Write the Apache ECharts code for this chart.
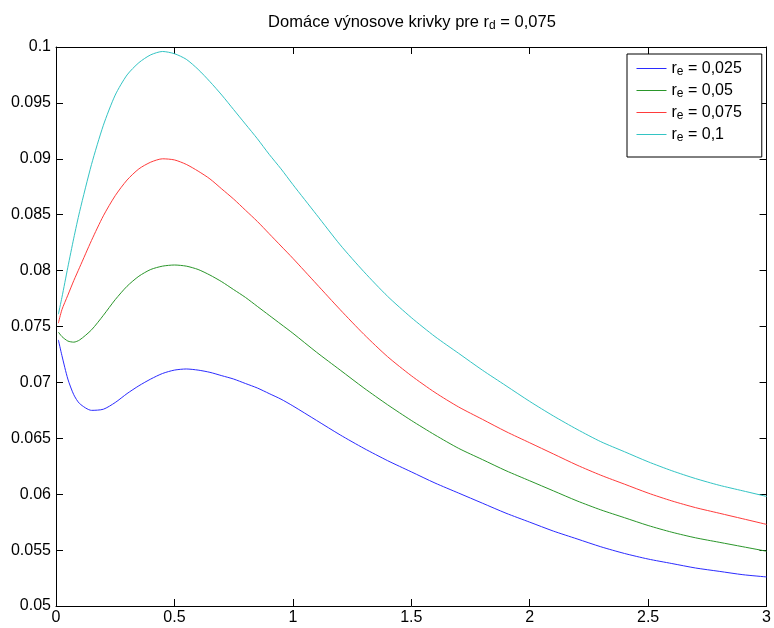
<!DOCTYPE html>
<html>
<head>
<meta charset="utf-8">
<script src="https://cdn.jsdelivr.net/npm/echarts@6/dist/echarts.min.js"></script>
<style>
  html, body { margin: 0; padding: 0; background: #fff; }
  #chart { width: 774px; height: 628px; }
</style>
</head>
<body>
<div id="chart"></div>
<script>
// Maturity grid (years)
const maturities = [0.01, 0.025, 0.05, 0.075, 0.1, 0.15, 0.2, 0.25, 0.3, 0.35, 0.4, 0.45, 0.5, 0.55, 0.6, 0.65, 0.7, 0.75, 0.8, 0.85, 0.9, 0.95, 1.0,
  1.1, 1.2, 1.3, 1.4, 1.5, 1.6, 1.7, 1.8, 1.9, 2.0, 2.1, 2.2, 2.3, 2.4, 2.5, 2.6, 2.7, 2.8, 2.9, 3.0];

// Domestic yields for each foreign rate r_e
const yieldsRe025 = [0.0738, 0.0724, 0.0703, 0.0689, 0.0681, 0.0675, 0.0676, 0.0682, 0.0690, 0.0697, 0.0703, 0.0708, 0.0711, 0.0712, 0.0711, 0.0709, 0.0706, 0.0703, 0.0699, 0.0695, 0.0690, 0.0685, 0.0679,
  0.0666, 0.0653, 0.0641, 0.0630, 0.0620, 0.0610, 0.0601, 0.0592, 0.0583, 0.0575, 0.0567, 0.0560, 0.0553, 0.0547, 0.0542, 0.0538, 0.0534, 0.0531, 0.0528, 0.0526];
const yieldsRe05 = [0.0745, 0.0741, 0.0737, 0.0736, 0.0738, 0.0747, 0.0760, 0.0774, 0.0786, 0.0795, 0.0801, 0.0804, 0.0805, 0.0804, 0.0801, 0.0796, 0.0790, 0.0783, 0.0776, 0.0768, 0.0760, 0.0752, 0.0744,
  0.0727, 0.0711, 0.0695, 0.0680, 0.0666, 0.0653, 0.0641, 0.0631, 0.0621, 0.0612, 0.0603, 0.0594, 0.0586, 0.0579, 0.0572, 0.0566, 0.0561, 0.0557, 0.0553, 0.0549];
const yieldsRe075 = [0.0753, 0.0765, 0.0778, 0.0791, 0.0803, 0.0827, 0.0849, 0.0867, 0.0881, 0.0891, 0.0897, 0.0900, 0.0899, 0.0895, 0.0889, 0.0882, 0.0873, 0.0864, 0.0854, 0.0844, 0.0833, 0.0822, 0.0811,
  0.0788, 0.0765, 0.0743, 0.0723, 0.0706, 0.0691, 0.0678, 0.0667, 0.0656, 0.0646, 0.0636, 0.0626, 0.0617, 0.0609, 0.0601, 0.0594, 0.0588, 0.0583, 0.0578, 0.0573];
const yieldsRe1 = [0.0761, 0.0776, 0.0803, 0.0829, 0.0853, 0.0895, 0.0930, 0.0957, 0.0975, 0.0986, 0.0993, 0.0996, 0.0994, 0.0989, 0.0980, 0.0969, 0.0957, 0.0944, 0.0931, 0.0918, 0.0904, 0.0891, 0.0877,
  0.0850, 0.0823, 0.0799, 0.0777, 0.0758, 0.0741, 0.0726, 0.0711, 0.0697, 0.0683, 0.0670, 0.0658, 0.0647, 0.0638, 0.0629, 0.0621, 0.0614, 0.0608, 0.0603, 0.0598];

const seriesNames = ['re025', 're05', 're075', 're1'];
const legendTexts = ['0,025', '0,05', '0,075', '0,1'];
const seriesValues = [yieldsRe025, yieldsRe05, yieldsRe075, yieldsRe1];
const seriesColors = ['#2b2bff', '#2a962a', '#ff3b3b', '#33c4c4'];

const xTicks = [0, 0.5, 1, 1.5, 2, 2.5, 3];
const yTicks = [0.05, 0.055, 0.06, 0.065, 0.07, 0.075, 0.08, 0.085, 0.09, 0.095, 0.1];

const fontFamily = 'Liberation Sans, Arial, sans-serif';
const axisColor = '#000';

const chart = echarts.init(document.getElementById('chart'), null, { renderer: 'canvas' });

function xAxisDef(pos, showLabel) {
  return {
    type: 'value', position: pos, min: xTicks[0], max: xTicks[xTicks.length - 1], interval: 0.5,
    axisLine: { show: true, onZero: false, lineStyle: { color: axisColor, width: 1 } },
    axisTick: { show: true, inside: true, length: 7, lineStyle: { color: axisColor } },
    axisLabel: { show: showLabel, color: '#000', fontSize: 16, fontFamily: fontFamily, margin: 4,
      formatter: v => String(+v.toFixed(2)) },
    splitLine: { show: false }
  };
}
function yAxisDef(pos, showLabel) {
  return {
    type: 'value', position: pos, min: yTicks[0], max: yTicks[yTicks.length - 1], interval: 0.005,
    axisLine: { show: true, onZero: false, lineStyle: { color: axisColor, width: 1 } },
    axisTick: { show: true, inside: true, length: 7, lineStyle: { color: axisColor } },
    axisLabel: { show: showLabel, color: '#000', fontSize: 16, fontFamily: fontFamily, margin: 5,
      formatter: v => String(+v.toFixed(3)) },
    splitLine: { show: false }
  };
}

const legendRich = {
  base: { fontSize: 16, fontFamily: fontFamily, color: '#000', lineHeight: 16 },
  sub: { fontSize: 12, fontFamily: fontFamily, color: '#000', lineHeight: 10, padding: [7, 0, 0, 0] }
};

chart.setOption({
  animation: false,
  backgroundColor: '#fff',
  title: {
    text: '{base|Domáce výnosove krivky pre r}{sub|d}{base| = 0,075}',
    left: 412, top: 14, textAlign: 'center', padding: 0,
    textStyle: {
      fontWeight: 'normal',
      rich: {
        base: { fontSize: 16.5, fontWeight: 'normal', fontFamily: fontFamily, color: '#000', lineHeight: 16 },
        sub: { fontSize: 12, fontWeight: 'normal', fontFamily: fontFamily, color: '#000', lineHeight: 10, padding: [8, 0, 0, 0] }
      }
    }
  },
  legend: {
    orient: 'vertical', left: 627, top: 54,
    padding: [5, 20, 13, 9], itemGap: 3, itemWidth: 30, itemHeight: 14,
    borderColor: '#000', borderWidth: 1, backgroundColor: '#fff',
    itemStyle: { opacity: 0 },
    lineStyle: { width: 1 },
    data: seriesNames,
    formatter: name => '{base|r}{sub|e}{base| = ' + legendTexts[seriesNames.indexOf(name)] + '}',
    textStyle: { rich: legendRich }
  },
  grid: { left: 56, right: 6, top: 47, bottom: 22, containLabel: false },
  xAxis: [xAxisDef('bottom', true), xAxisDef('top', false)],
  yAxis: [yAxisDef('left', true), yAxisDef('right', false)],
  series: seriesNames.map((n, i) => ({
    name: n, type: 'line', xAxisIndex: 0, yAxisIndex: 0,
    showSymbol: false, symbol: 'none', smooth: 0.25,
    lineStyle: { color: seriesColors[i], width: 1 },
    itemStyle: { color: seriesColors[i] },
    data: maturities.map((x, k) => [x, seriesValues[i][k]])
  }))
});
</script>
</body>
</html>
